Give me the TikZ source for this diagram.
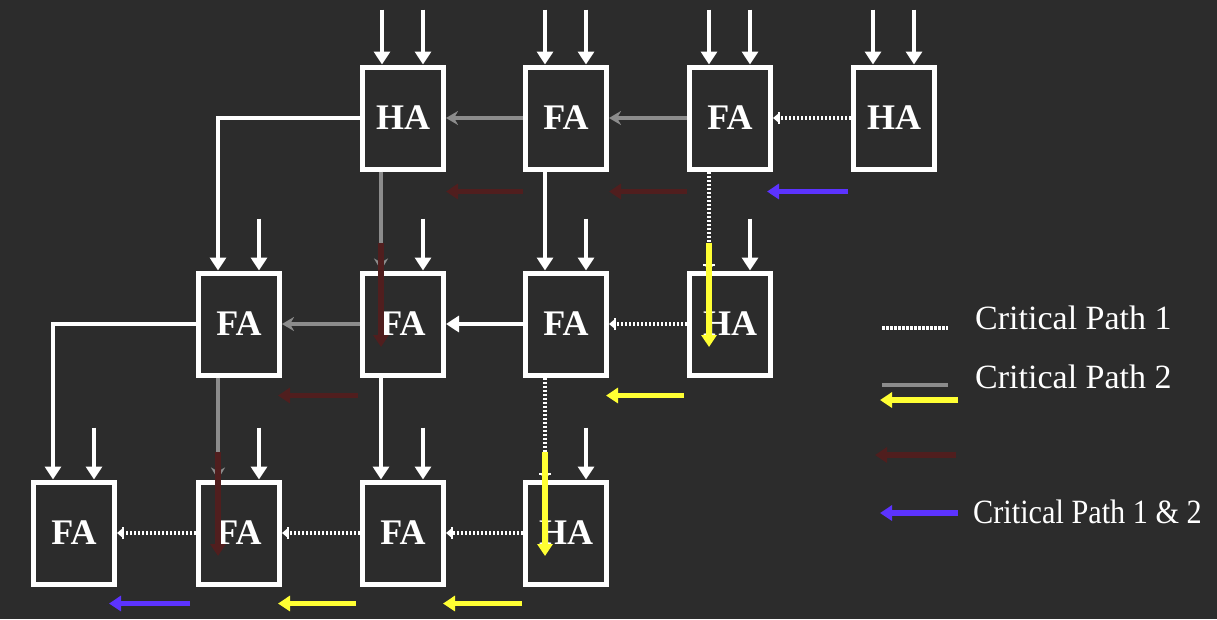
\documentclass[tikz,border=0pt]{standalone}
\usepackage{fontspec}
\setmainfont{Liberation Serif}
\usetikzlibrary{arrows.meta}

\tikzset{
  adder/.style={draw=white, line width=5pt, fill=bgdark, minimum width=81pt,
    minimum height=102pt, inner sep=0pt, text=white,
    font=\fontsize{36}{40}\selectfont\bfseries},
  feed/.style={white, line width=4.5pt, -{Triangle[width=16pt,length=13pt]}},
  wire/.style={white, line width=4pt},
  pathone/.style={white, line width=4pt, dash pattern=on 2.5pt off 1.5pt},
  pathtwo/.style={pathgray, line width=4pt},
  onetip/.style={-{Bar[width=12pt,line width=1.5pt] Triangle[width=8pt,length=5pt]}},
  twotip/.style={-{Stealth[width=14pt,length=12pt]}},
  hint/.style={line width=5.5pt, -{Triangle[width=15pt,length=12pt]}},
  legendtext/.style={anchor=west, text=white, inner sep=0pt,
    font=\fontsize{34}{40}\selectfont}
}

\begin{document}
\begin{tikzpicture}[x=1pt, y=-1pt, line cap=butt]
  \definecolor{bgdark}{RGB}{44,44,44}
  \definecolor{pathgray}{RGB}{140,140,140}
  \definecolor{hintbrown}{RGB}{80,30,30}
  \definecolor{hintyellow}{RGB}{255,255,51}
  \definecolor{hintpurple}{RGB}{92,51,255}
  \useasboundingbox[fill=bgdark] (0,0) rectangle (1217,619);

  % top row
  \node[adder] (t3) at (403,118) {HA};
  \node[adder] (t4) at (566,118) {FA};
  \node[adder] (t5) at (730,118) {FA};
  \node[adder] (t6) at (894,118) {HA};
  % middle row
  \node[adder] (m2) at (239,324) {FA};
  \node[adder] (m3) at (403,324) {FA};
  \node[adder] (m4) at (566,324) {FA};
  \node[adder] (m5) at (730,324) {HA};
  % bottom row
  \node[adder] (b1) at (74,533) {FA};
  \node[adder] (b2) at (239,533) {FA};
  \node[adder] (b3) at (403,533) {FA};
  \node[adder] (b4) at (566,533) {HA};

  % operand inputs
  \foreach \g in {t3,t4,t5,t6} {
    \draw[feed] ([xshift=-21pt,yshift=55pt]\g.north) -- ([xshift=-21pt]\g.north);
    \draw[feed] ([xshift=20pt,yshift=55pt]\g.north) -- ([xshift=20pt]\g.north);
  }
  \foreach \g in {m2,m3,m4,m5,b1,b2,b3,b4}
    \draw[feed] ([xshift=20pt,yshift=52pt]\g.north) -- ([xshift=20pt]\g.north);

  % carries, top row
  \draw[pathtwo,twotip] (t4.west) -- (t3.east);
  \draw[pathtwo,twotip] (t5.west) -- (t4.east);
  \draw[pathone,onetip] (t6.west) -- (t5.east);
  \draw[wire,-{Triangle[width=16pt,length=13pt]}] (t3.west) -| ([xshift=-21pt]m2.north);
  % top to middle
  \draw[pathtwo,twotip] ([xshift=-22pt]t3.south) -- ([xshift=-22pt]m3.north);
  \draw[feed] ([xshift=-21pt]t4.south) -- ([xshift=-21pt]m4.north);
  \draw[pathone,onetip] ([xshift=-21pt]t5.south) -- ([xshift=-21pt]m5.north);

  % carries, middle row
  \draw[pathtwo,twotip] (m3.west) -- (m2.east);
  \draw[feed] (m4.west) -- (m3.east);
  \draw[pathone,onetip] (m5.west) -- (m4.east);
  \draw[wire,-{Triangle[width=16pt,length=13pt]}] (m2.west) -| ([xshift=-21pt]b1.north);
  % middle to bottom
  \draw[pathtwo,twotip] ([xshift=-21pt]m2.south) -- ([xshift=-21pt]b2.north);
  \draw[feed] ([xshift=-22pt]m3.south) -- ([xshift=-22pt]b3.north);
  \draw[pathone,onetip] ([xshift=-21pt]m4.south) -- ([xshift=-21pt]b4.north);

  % carries, bottom row
  \draw[pathone,onetip] (b2.west) -- (b1.east);
  \draw[pathone,onetip] (b3.west) -- (b2.east);
  \draw[pathone,onetip] (b4.west) -- (b3.east);

  % delay markers
  \draw[hint,hintbrown] ([yshift=-20pt]t4.south west) -- ([yshift=-20pt]t3.south east);
  \draw[hint,hintbrown] ([yshift=-20pt]t5.south west) -- ([yshift=-20pt]t4.south east);
  \draw[hint,hintpurple] ([xshift=-3pt,yshift=-20pt]t6.south west) -- ([xshift=-6pt,yshift=-20pt]t5.south east);
  \draw[hint,hintbrown] ([xshift=-22pt,yshift=28pt]m3.north) -- ([xshift=-22pt,yshift=-23pt]m3.center);
  \draw[hint,hintyellow] ([xshift=-21pt,yshift=28pt]m5.north) -- ([xshift=-21pt,yshift=-23pt]m5.center);
  \draw[hint,hintbrown] ([xshift=-2pt,yshift=-18pt]m3.south west) -- ([xshift=-4pt,yshift=-18pt]m2.south east);
  \draw[hint,hintyellow] ([xshift=-3pt,yshift=-18pt]m5.south west) -- ([xshift=-3pt,yshift=-18pt]m4.south east);
  \draw[hint,hintbrown] ([xshift=-21pt,yshift=28pt]b2.north) -- ([xshift=-21pt,yshift=-23pt]b2.center);
  \draw[hint,hintyellow] ([xshift=-21pt,yshift=28pt]b4.north) -- ([xshift=-21pt,yshift=-23pt]b4.center);
  \draw[hint,hintpurple] ([xshift=-6pt,yshift=-17pt]b2.south west) -- ([xshift=-8pt,yshift=-17pt]b1.south east);
  \draw[hint,hintyellow] ([xshift=-4pt,yshift=-17pt]b3.south west) -- ([xshift=-4pt,yshift=-17pt]b2.south east);
  \draw[hint,hintyellow] ([xshift=-1pt,yshift=-17pt]b4.south west) -- ([xshift=-3pt,yshift=-17pt]b3.south east);

  % legend
  \coordinate (k1a) at (882,328); \coordinate (k1b) at (948,328);
  \coordinate (k2a) at (882,385); \coordinate (k2b) at (948,385);
  \coordinate (k3a) at (958,400); \coordinate (k3b) at (880,400);
  \coordinate (k4a) at (956,455); \coordinate (k4b) at (875,455);
  \coordinate (k5a) at (958,513); \coordinate (k5b) at (880,513);
  \draw[pathone] (k1a) -- (k1b);
  \draw[pathtwo] (k2a) -- (k2b);
  \draw[hint,hintyellow] (k3a) -- (k3b);
  \draw[hint,hintbrown] (k4a) -- (k4b);
  \draw[hint,hintpurple] (k5a) -- (k5b);
  \node[legendtext] (lab1) at (975,318) {Critical Path 1};
  \node[legendtext] (lab2) at (975,377) {Critical Path 2};
  \node[legendtext, xscale=0.89] (lab3) at (973,512) {Critical Path 1 \& 2};
\end{tikzpicture}
\end{document}
